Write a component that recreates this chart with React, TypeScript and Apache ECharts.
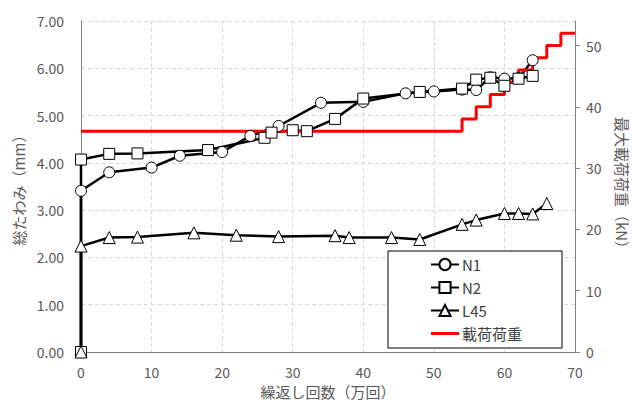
import React, { useEffect, useRef } from 'react';
import * as echarts from 'echarts';

// 繰返し回数（万回） and 総たわみ（mm）
const cyclesN1 = [0, 0, 4, 10, 14, 20, 24, 28, 34, 40, 46, 50, 54, 56, 58, 60, 62, 64];
const valuesN1 = [0, 3.41, 3.80, 3.90, 4.15, 4.23, 4.57, 4.78, 5.27, 5.29, 5.47, 5.51, 5.55, 5.54, 5.81, 5.78, 5.79, 6.17];
const cyclesN2 = [0, 0, 4, 8, 18, 26, 27, 30, 32, 36, 40, 48, 54, 56, 58, 60, 62, 64];
const valuesN2 = [0, 4.07, 4.19, 4.20, 4.27, 4.53, 4.64, 4.69, 4.67, 4.93, 5.36, 5.50, 5.57, 5.76, 5.80, 5.63, 5.78, 5.84];
const cyclesL45 = [0, 0, 4, 8, 16, 22, 28, 36, 38, 44, 48, 54, 56, 60, 62, 64, 66];
const valuesL45 = [0, 2.24, 2.42, 2.43, 2.52, 2.47, 2.44, 2.46, 2.42, 2.42, 2.38, 2.70, 2.79, 2.93, 2.93, 2.92, 3.14];
// 載荷荷重（kN）
const loadCycles = [0, 54, 56, 58, 60, 62, 64, 66, 68, 70];
const loadValues = [36, 38, 40, 42, 44, 46, 48, 50, 52, 52];
const rightTicks = [0, 10, 20, 30, 40, 50];

const FONT = '"Noto Sans CJK JP", "Noto Sans", sans-serif';
const zip = (xs: number[], ys: number[]) => xs.map((x, i) => [x, ys[i]]);

export default function App() {
  const ref = useRef<HTMLDivElement>(null);
  useEffect(() => {
    if (!ref.current) return;
    const chart = echarts.init(ref.current, undefined, { renderer: 'svg' });
    const markerSeries = (name: string, symbol: string, xs: number[], ys: number[], size: number) => ({
      name,
      type: 'line',
      data: zip(xs, ys),
      symbol,
      symbolSize: size,
      showAllSymbol: true,
      lineStyle: { color: '#000', width: 2.5 },
      itemStyle: { color: '#fff', borderColor: '#000', borderWidth: 1 },
      emphasis: { disabled: true },
    });
    chart.setOption({
      animation: false,
      backgroundColor: '#fff',
      textStyle: { fontFamily: FONT },
      grid: { left: 81, right: 57, top: 21, bottom: 49, containLabel: false, outerBoundsMode: 'none' },
      legend: {
        orient: 'vertical',
        left: 388,
        top: 251,
        padding: [6, 40, 7, 42],
        itemGap: 8,
        itemWidth: 28,
        itemHeight: 14,
        borderColor: '#000',
        borderWidth: 1,
        backgroundColor: '#fff',
        textStyle: { fontFamily: FONT, fontSize: 15, color: '#404040', padding: [0, 0, 0, -2] },
        data: [
          'N1',
          'N2',
          'L45',
          { name: '載荷荷重', icon: 'path://M0,0H28V3H0Z', itemStyle: { color: '#ff0000' } },
        ],
      },
      xAxis: {
        type: 'value',
        min: 0,
        max: 70,
        interval: 10,
        name: '繰返し回数（万回）',
        nameLocation: 'middle',
        nameGap: 28,
        nameTextStyle: { fontFamily: FONT, fontSize: 15, color: '#595959' },
        axisLine: { show: true, onZero: false, lineStyle: { color: '#808080', width: 1 } },
        axisTick: { show: false },
        axisLabel: { fontFamily: FONT, fontSize: 14, color: '#595959', margin: 13 },
        splitLine: { show: true, lineStyle: { color: '#d9d9d9', type: [4, 3], width: 1 } },
      },
      yAxis: [
        {
          type: 'value',
          min: 0,
          max: 7,
          interval: 1,
          name: '総たわみ（mm）',
          nameLocation: 'middle',
          nameGap: 52,
          nameTextStyle: { fontFamily: FONT, fontSize: 15, color: '#595959' },
          axisLine: { show: true, onZero: false, lineStyle: { color: '#808080', width: 1 } },
          axisTick: { show: false },
          axisLabel: {
            fontFamily: FONT,
            fontSize: 14,
            color: '#595959',
            margin: 17,
            formatter: (v: number) => v.toFixed(2),
          },
          splitLine: { show: true, lineStyle: { color: '#d9d9d9', type: [4, 3], width: 1 } },
        },
        {
          type: 'value',
          min: 0,
          max: 54,
          interval: 10,
          position: 'right',
          name: '最大載荷荷重（kN）',
          nameLocation: 'middle',
          nameGap: 40,
          nameRotate: -90,
          nameTextStyle: { fontFamily: FONT, fontSize: 15, color: '#595959' },
          axisLine: { show: true, onZero: false, lineStyle: { color: '#808080', width: 1 } },
          axisTick: { show: true, inside: false, length: 5, customValues: rightTicks, lineStyle: { color: '#808080' } },
          axisLabel: { fontFamily: FONT, fontSize: 14, color: '#595959', margin: 11, customValues: rightTicks },
          splitLine: { show: false },
        },
      ],
      series: [
        markerSeries('N1', 'circle', cyclesN1, valuesN1, 11),
        markerSeries('N2', 'rect', cyclesN2, valuesN2, 11),
        markerSeries('L45', 'triangle', cyclesL45, valuesL45, 12),
        {
          name: '載荷荷重',
          type: 'line',
          yAxisIndex: 1,
          step: 'end',
          data: zip(loadCycles, loadValues),
          symbol: 'none',
          lineStyle: { color: '#ff0000', width: 3 },
          itemStyle: { color: '#ff0000' },
          emphasis: { disabled: true },
        },
      ],
    });
    return () => chart.dispose();
  }, []);
  return (
    <div
      ref={ref}
      style={{ position: 'absolute', left: 0, top: 0, width: 632, height: 401, background: '#fff' }}
    />
  );
}
